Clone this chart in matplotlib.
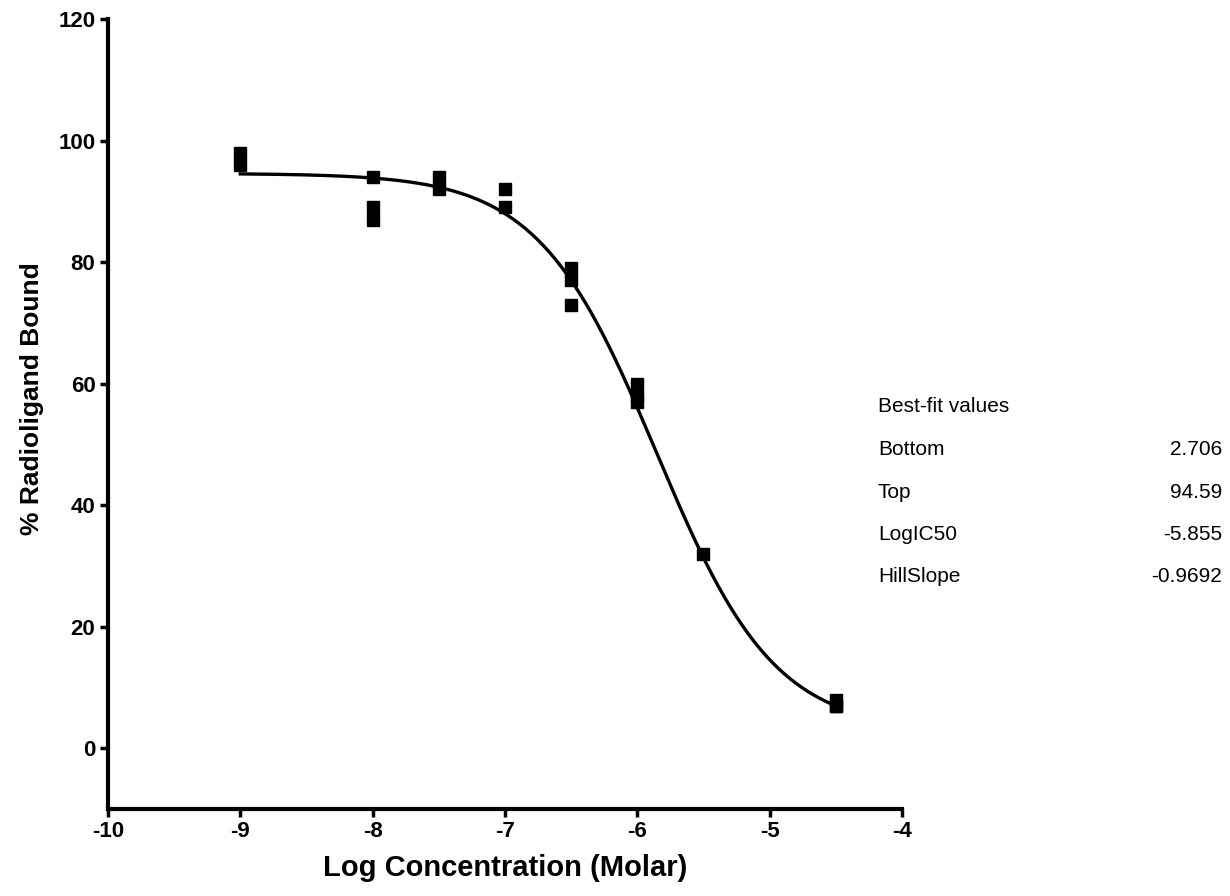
import numpy as np
import matplotlib.pyplot as plt

plt.rcParams['font.family'] = ['Liberation Sans', 'DejaVu Sans']
plt.rcParams['axes.unicode_minus'] = False

# measured points: log concentration and % bound (replicates)
log_conc = [-9, -9, -8, -8, -8, -7.5, -7.5, -7, -7,
            -6.5, -6.5, -6.5, -6, -6, -6, -5.5, -4.5, -4.5, -4.5]
pct_bound = [98, 96, 94, 89, 87, 94, 92, 92, 89,
             79, 77, 73, 60, 58, 57, 32, 8, 7, 7]

# best-fit parameters
fit_names = ["Bottom", "Top", "LogIC50", "HillSlope"]
fit_labels = ["2.706", "94.59", "-5.855", "-0.9692"]
bottom, top, log_ic50, hill = 2.706, 94.59, -5.855, -0.9692

fig = plt.figure(figsize=(12.3, 8.96), dpi=100)
ax = fig.add_axes([0.0878, 0.0971, 0.6455, 0.8817])

xs = np.linspace(min(log_conc), max(log_conc), 300)
ys = bottom + (top - bottom) / (1 + 10 ** ((log_ic50 - xs) * hill))
ax.plot(xs, ys, color='black', lw=2.4, zorder=2)
ax.plot(log_conc, pct_bound, 's', color='black', ms=8, zorder=3)

ax.set_xlim(-10, -4)
ax.set_ylim(-10, 120)
ax.set_xticks(range(-10, -3))
ax.set_yticks(range(0, 121, 20))
for s in ['top', 'right']:
    ax.spines[s].set_visible(False)
for s in ['left', 'bottom']:
    ax.spines[s].set_linewidth(3)
ax.tick_params(direction='out', length=6, width=2.5, labelsize=16, pad=3)
for lab in ax.get_xticklabels() + ax.get_yticklabels():
    lab.set_fontweight('bold')

ax.set_xlabel('Log Concentration (Molar)', fontsize=21, fontweight='bold', labelpad=8)
ax.set_ylabel('% Radioligand Bound', fontsize=19, fontweight='bold')
ax.yaxis.set_label_coords(-0.081, 0.52)

# best-fit table
x_left, x_right = 878 / 1230, 1222 / 1230
y0 = 1 - 407 / 896
step = 42.5 / 896
fig.text(x_left, y0, "Best-fit values", fontsize=15, va='center', ha='left')
for i, (n, v) in enumerate(zip(fit_names, fit_labels)):
    y = y0 - (i + 1) * step
    fig.text(x_left, y, n, fontsize=15, va='center', ha='left')
    fig.text(x_right, y, v, fontsize=15, va='center', ha='right')

fig.savefig('out.png', dpi=100)
